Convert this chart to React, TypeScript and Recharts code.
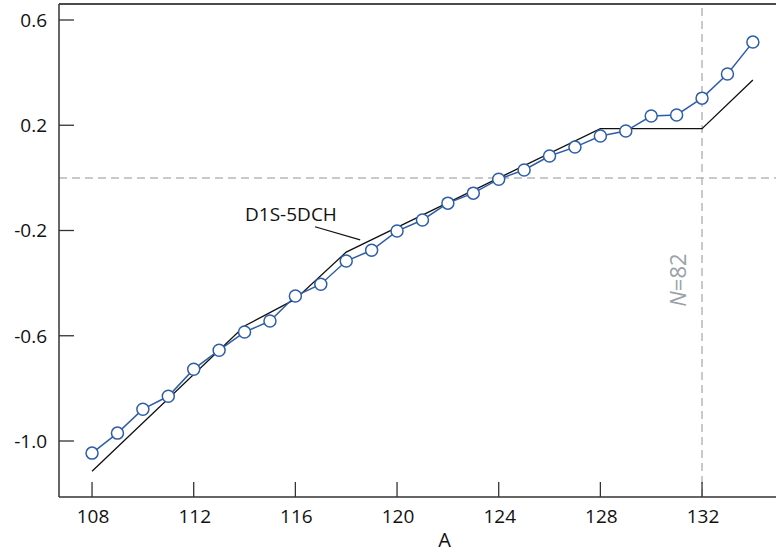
import React from 'react';
import { LineChart, Line, XAxis, YAxis, ReferenceLine, ReferenceDot } from 'recharts';

const xValues = [108, 109, 110, 111, 112, 113, 114, 115, 116, 117, 118, 119, 120, 121, 122, 123, 124, 125, 126, 127, 128, 129, 130, 131, 132, 133, 134];
const observed = [-1.046, -0.970, -0.879, -0.830, -0.727, -0.655, -0.586, -0.544, -0.449, -0.404, -0.316, -0.275, -0.202, -0.160, -0.096, -0.058, -0.005, 0.030, 0.083, 0.117, 0.159, 0.178, 0.235, 0.239, 0.303, 0.395, 0.516];

const fitX = [108, 114, 116, 118, 128, 132, 134];
const fitY = [-1.115, -0.563, -0.461, -0.282, 0.187, 0.187, 0.372];

const xTicks = [108, 112, 116, 120, 124, 128, 132];
const yTicks = [0.6, 0.2, -0.2, -0.6, -1.0];

const X_DOMAIN: [number, number] = [106.7, 134.91];
const Y_DOMAIN: [number, number] = [-1.2128, 0.6608];

const observedData = xValues.map((x, i) => ({ x, y: observed[i] }));
const fitData = fitX.map((x, i) => ({ x, y: fitY[i] }));

const FONT = '"Open Sans", "Noto Sans", sans-serif';
const AXIS = '#333333';
const BLUE = '#2f5ea8';
const DASH = '#b4b8bd';

const XTick = (props: any) => {
  const { x, y, payload } = props;
  return (
    <g>
      <line x1={x} x2={x} y1={y} y2={y - 15} stroke={AXIS} strokeWidth={1.3} />
      <text x={x + 1} y={y + 26} textAnchor="middle" fontFamily={FONT} fontSize={19} fill="#111">
        {payload.value}
      </text>
    </g>
  );
};

const YTick = (props: any) => {
  const { x, y, payload } = props;
  return (
    <g>
      <line x1={x} x2={x + 15} y1={y} y2={y} stroke={AXIS} strokeWidth={1.3} />
      <text x={x - 12} y={y} dy="0.36em" textAnchor="end" fontFamily={FONT} fontSize={19} fill="#111">
        {Number(payload.value).toFixed(1)}
      </text>
    </g>
  );
};

const NLabel = (props: any) => {
  const vb = props.viewBox || {};
  const cx = vb.x - 16;
  const cy = vb.y + 276;
  return (
    <text
      x={cx}
      y={cy}
      textAnchor="middle"
      transform={`rotate(-90, ${cx}, ${cy})`}
      fontFamily={FONT}
      fontSize={22}
      fill="#9aa0a8"
    >
      <tspan fontStyle="italic">N</tspan>=82
    </text>
  );
};

const annotationText = { x: 114.02, y: -0.164 };
const leader: [{ x: number; y: number }, { x: number; y: number }] = [
  { x: 116.77, y: -0.1856 },
  { x: 118.55, y: -0.2355 },
];

export default function App() {
  return (
    <div style={{ position: 'absolute', left: 0, top: 0, width: 776, height: 554, background: '#fff' }}>
      <LineChart width={776} height={554} margin={{ top: 4, right: 0, left: 0, bottom: 0 }}>
        <XAxis
          type="number"
          dataKey="x"
          domain={X_DOMAIN}
          ticks={xTicks}
          allowDataOverflow
          height={57}
          tickSize={0}
          tickMargin={0}
          tickLine={false}
          tick={<XTick />}
          axisLine={{ stroke: AXIS, strokeWidth: 1.5 }}
          label={{ value: 'A', position: 'insideBottom', offset: 7, dx: 27, fontSize: 20, fontFamily: FONT, fill: '#111' }}
        />
        <YAxis
          type="number"
          dataKey="y"
          domain={Y_DOMAIN}
          ticks={yTicks}
          allowDataOverflow
          width={59}
          tickSize={0}
          tickMargin={0}
          tickLine={false}
          tick={<YTick />}
          axisLine={{ stroke: AXIS, strokeWidth: 1.5 }}
        />
        <ReferenceLine y={Y_DOMAIN[1]} stroke="#111" strokeWidth={1.5} />
        <ReferenceLine y={0} stroke={DASH} strokeWidth={1.5} strokeDasharray="8 5" />
        <ReferenceLine x={132} stroke={DASH} strokeWidth={1.5} strokeDasharray="8 5" label={<NLabel />} />
        <ReferenceLine segment={leader} stroke="#111" strokeWidth={1.2} />
        <ReferenceDot
          x={annotationText.x}
          y={annotationText.y}
          r={0}
          shape={(p: any) => (
            <text x={p.cx} y={p.cy} fontFamily={FONT} fontSize={19} fill="#111">
              D1S-5DCH
            </text>
          )}
        />
        <Line
          data={fitData}
          dataKey="y"
          type="linear"
          stroke="#111"
          strokeWidth={1.3}
          dot={false}
          activeDot={false}
          isAnimationActive={false}
        />
        <Line
          data={observedData}
          dataKey="y"
          type="linear"
          stroke={BLUE}
          strokeWidth={1.5}
          dot={{ r: 6, fill: '#fff', stroke: BLUE, strokeWidth: 1.5 }}
          activeDot={false}
          isAnimationActive={false}
        />
      </LineChart>
    </div>
  );
}
